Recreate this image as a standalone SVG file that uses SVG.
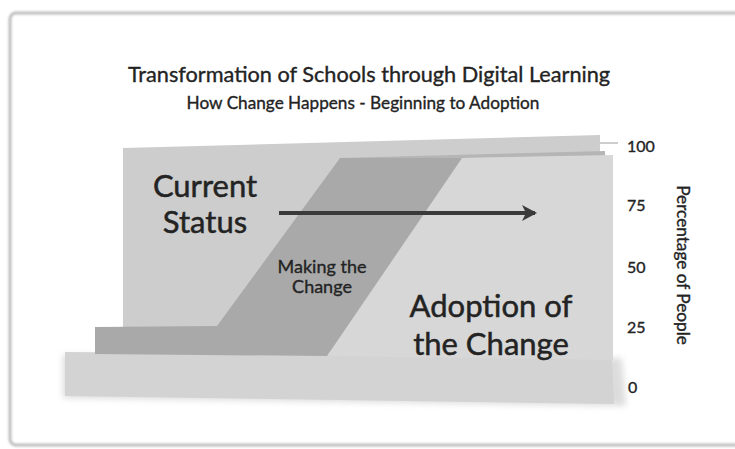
<svg xmlns="http://www.w3.org/2000/svg" width="735" height="449" viewBox="0 0 735 449">
<defs>
<style>
text{font-family:Lato,"Open Sans","Liberation Sans",sans-serif;fill:#232323;stroke:#232323;stroke-width:0.35;}
.title{font-size:21.7px;text-anchor:middle;}
.sub{font-size:17.2px;text-anchor:middle;}
.big{font-size:31px;text-anchor:middle;stroke-width:0.5;}
.mid{font-size:18px;text-anchor:middle;}
.axis{font-size:16px;}
</style>
<filter id="blur" x="-10%" y="-20%" width="120%" height="140%"><feGaussianBlur stdDeviation="3"/></filter>
<filter id="soft" x="-5%" y="-5%" width="110%" height="110%"><feGaussianBlur stdDeviation="0.8"/></filter>
<marker id="arr" markerWidth="16" markerHeight="18" refX="13" refY="9" orient="auto" markerUnits="userSpaceOnUse" viewBox="0 0 16 18">
<path d="M0,1 L15,9 L0,17 L4,9 Z" fill="#3a3a3a"/>
</marker>
</defs>
<rect width="735" height="449" fill="#ffffff"/>
<g id="frame">
<rect x="10" y="13" width="740" height="432" rx="6" fill="none" stroke="#bdbdbd" stroke-width="3" filter="url(#soft)"/>
</g>
<g id="titles">
<text class="title" x="369" y="82">Transformation of Schools through Digital Learning</text>
<text class="sub" x="363" y="109">How Change Happens - Beginning to Adoption</text>
</g>
<g id="chart">
<path d="M63,355 L622,358 L626,406 L63,398 Z" fill="#d4d4d4" opacity="0.8" filter="url(#blur)"/>
<path d="M65,352 L612,356 L614,404 L65,396 Z" fill="#d3d3d3"/>
<path d="M123,148 L600,135 L600,352 L123,352 Z" fill="#cdcdcd"/>
<path d="M340,158 L605,151 L605,156 L462,158 Z" fill="#b5b5b5"/>
<path d="M462,158 L613,155 L613,360 L327,356 Z" fill="#d7d7d7"/>
<path d="M340,158 L462,158 L327,356 L95,354 L95,327 L217,326 Z" fill="#a9a9a9"/>
<line x1="600" y1="143" x2="618" y2="143" stroke="#bdbdbd" stroke-width="1.5"/>
</g>
<g id="current-status">
<text class="big" x="205" y="197">Current</text>
<text class="big" x="205" y="233">Status</text>
</g>
<g id="making-change">
<text class="mid" x="322" y="273">Making the</text>
<text class="mid" x="322" y="293">Change</text>
</g>
<g id="adoption">
<text class="big" x="491" y="317">Adoption of</text>
<text class="big" x="491" y="355">the Change</text>
</g>
<g id="connectors">
<line x1="279" y1="213" x2="535" y2="213" stroke="#3a3a3a" stroke-width="4" marker-end="url(#arr)"/>
</g>
<g id="axis">
<text class="axis" x="627" y="152">100</text>
<text class="axis" x="627" y="211">75</text>
<text class="axis" x="627" y="273">50</text>
<text class="axis" x="627" y="333">25</text>
<text class="axis" x="628" y="393">0</text>
<text class="axis" style="font-size:17.2px" transform="translate(677,265) rotate(90)" text-anchor="middle">Percentage of People</text>
</g>
</svg>
